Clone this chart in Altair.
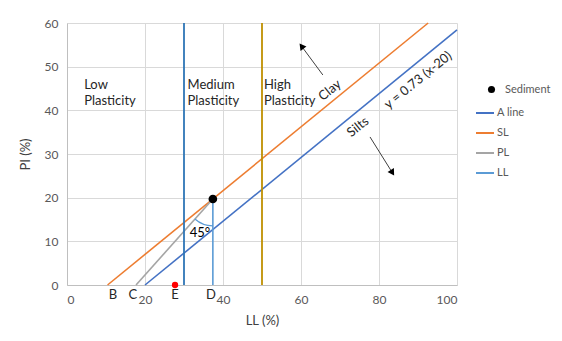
import altair as alt
import pandas as pd
import math

# ---- data ----
line_names = ["A line", "SL", "PL", "LL"]
line_colors = ["#4472C4", "#ED7D31", "#A5A5A5", "#5B9BD5"]

a_line_x = [20, 100]
a_line_y = [0, 58.4]
sl_x = [10.4, 92.6]
sl_y = [0, 60]
pl_x = [17.7, 37.4]
pl_y = [0, 19.7]
ll_x = [37.4, 37.4]
ll_y = [0, 19.7]
sediment_ll = [37.4]
sediment_pi = [19.7]

boundary_x = [30, 50]
boundary_colors = ["#2E75B6", "#BF9000"]

e_point_x = [27.7]
e_point_y = [0]

letter_labels = ["B", "C", "E", "D"]
letter_x = [11.8, 16.9, 27.7, 36.9]

region_texts = ["Low\nPlasticity", "Medium\nPlasticity", "High\nPlasticity"]
region_x = [4.4, 30.9, 50.5]
region_y = [45.0, 45.0, 45.0]

rot_texts = ["Clay", "y = 0.73 (x-20)", "Silts"]
rot_x = [67.4, 90.0, 74.6]
rot_y = [44.6, 46.9, 36.2]

arrow_x1 = [65.6, 77.7]
arrow_y1 = [48.1, 33.9]
arrow_x2 = [60.3, 83.3]
arrow_y2 = [54.5, 25.9]
arrow_angle = [323, 148]

angle_text = ["45°"]
angle_text_x = [34.1]
angle_text_y = [11.8]

x_ticks = [0, 20, 40, 60, 80, 100]
y_ticks = [0, 10, 20, 30, 40, 50, 60]

FONT = "Lato"

# ---- tables ----
rows = []
for name, xs_, ys_ in [("A line", a_line_x, a_line_y), ("SL", sl_x, sl_y),
                       ("PL", pl_x, pl_y), ("LL", ll_x, ll_y)]:
    for i, (xv, yv) in enumerate(zip(xs_, ys_)):
        rows.append({"series": name, "x": xv, "y": yv, "o": i})
lines_df = pd.DataFrame(rows)
sed_df = pd.DataFrame({"series": ["Sediment"], "x": sediment_ll, "y": sediment_pi})
bound_df = pd.DataFrame({"x": boundary_x, "c": boundary_colors})
e_df = pd.DataFrame({"x": e_point_x, "y": e_point_y})
let_df = pd.DataFrame({"t": letter_labels, "x": letter_x, "y": [0] * len(letter_x)})
reg_df = pd.DataFrame({"t": region_texts, "x": region_x, "y": region_y})
rot_df = pd.DataFrame({"t": rot_texts, "x": rot_x, "y": rot_y})
arr_df = pd.DataFrame({"x": arrow_x1, "y": arrow_y1, "x2": arrow_x2, "y2": arrow_y2, "a": arrow_angle})
ang_df = pd.DataFrame({"t": angle_text, "x": angle_text_x, "y": angle_text_y})

xs = alt.Scale(domain=[0, 100], nice=False)
ys = alt.Scale(domain=[0, 60], nice=False)

axis_common = dict(ticks=False, gridColor="#D9D9D9", domainColor="#BFBFBF",
                   labelFont=FONT, labelFontSize=12, labelColor="#595959",
                   titleFont=FONT, titleFontSize=13, titleColor="#404040",
                   titleFontWeight="normal")
X = alt.X("x:Q", scale=xs, title="LL (%)",
          axis=alt.Axis(values=x_ticks, labelPadding=9, titlePadding=9, **axis_common))
Y = alt.Y("y:Q", scale=ys, title="PI (%)",
          axis=alt.Axis(values=y_ticks, labelPadding=9, titlePadding=12, **axis_common))

line_legend = alt.Legend(
    title=None, orient="none", legendX=408, legendY=80,
    labelFont=FONT, labelFontSize=11, labelColor="#595959", rowPadding=5,
    symbolType="stroke", symbolSize=324, symbolStrokeWidth=2, labelOffset=2,
)
color = alt.Color("series:N", scale=alt.Scale(domain=line_names, range=line_colors), legend=line_legend)

sed_legend = alt.Legend(
    title=None, orient="none", legendX=419, legendY=61,
    labelFont=FONT, labelFontSize=11, labelColor="#595959",
    symbolType="circle", symbolSize=50, symbolFillColor="#000000", symbolStrokeWidth=0,
    labelOffset=8,
)
shape = alt.Shape("series:N", scale=alt.Scale(domain=["Sediment"], range=["circle"]), legend=sed_legend)

base_lines = alt.Chart(lines_df).mark_line(strokeWidth=1.6).encode(
    x=X, y=Y, color=color, detail="series:N", order="o:Q")

bounds = alt.Chart(bound_df).mark_rule(strokeWidth=1.8).encode(
    x="x:Q", color=alt.Color("c:N", scale=None))

arc = alt.Chart(sed_df).mark_arc(radius=27.5, radius2=26.3, theta=math.pi,
                                 theta2=math.pi + 0.73, color="#5B9BD5").encode(
    x="x:Q", y="y:Q")

sed = alt.Chart(sed_df).mark_point(filled=True, size=75, opacity=1, color="#000000").encode(
    x="x:Q", y="y:Q", shape=shape)

e_pt = alt.Chart(e_df).mark_point(filled=True, size=40, opacity=1, color="#FF0000").encode(
    x="x:Q", y="y:Q")

letters = alt.Chart(let_df).mark_text(font=FONT, fontSize=13, dy=10, baseline="middle",
                                      color="#262626").encode(x="x:Q", y="y:Q", text="t:N")

regions = alt.Chart(reg_df).mark_text(font=FONT, fontSize=13, align="left", baseline="alphabetic",
                                      lineBreak="\n", lineHeight=16.5, color="#262626").encode(
    x="x:Q", y="y:Q", text="t:N")

rots = alt.Chart(rot_df).mark_text(font=FONT, fontSize=13, angle=321, align="center",
                                   baseline="middle", color="#262626").encode(
    x="x:Q", y="y:Q", text="t:N")

shafts = alt.Chart(arr_df).mark_rule(strokeWidth=1, color="#404040").encode(
    x="x:Q", y="y:Q", x2="x2:Q", y2="y2:Q")
heads = alt.Chart(arr_df).mark_point(shape="triangle", filled=True, size=55, opacity=1,
                                     color="#000000").encode(
    x="x2:Q", y="y2:Q", angle=alt.Angle("a:Q", scale=None))

ang = alt.Chart(ang_df).mark_text(font=FONT, fontSize=13, color="#000000").encode(
    x="x:Q", y="y:Q", text="t:N")

chart = alt.layer(base_lines, bounds, arc, sed, e_pt, letters, regions, rots, shafts, heads, ang).properties(
    width=390, height=262,
    background="white",
    autosize=alt.AutoSizeParams(type="none"),
    padding={"left": 59, "top": 15, "right": 97, "bottom": 48},
).resolve_scale(color="independent").configure_view(stroke=None)

chart.save("out.html", embed_options={"renderer": "svg", "actions": False})
